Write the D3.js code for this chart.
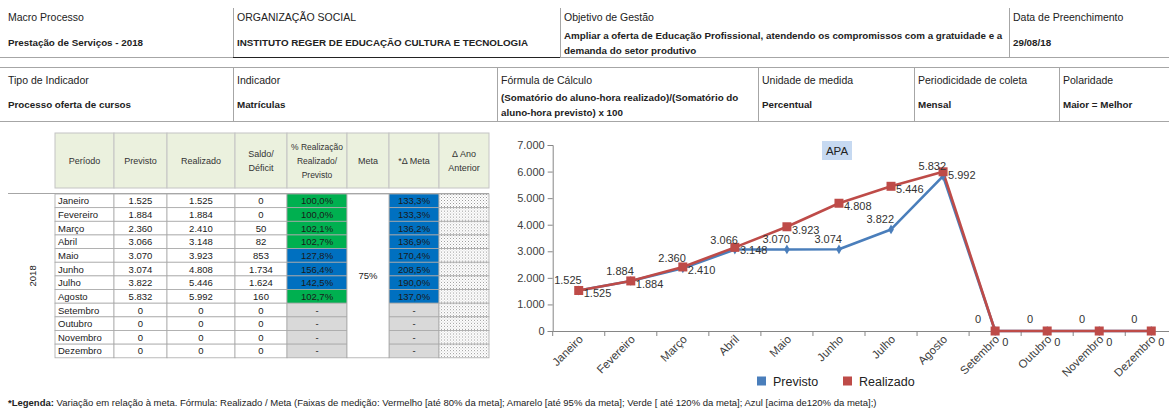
<!DOCTYPE html>
<html>
<head>
<meta charset="utf-8">
<script src="https://cdn.jsdelivr.net/npm/d3@7"></script>
<style>
  body { margin: 0; background: #fff; }
  svg { display: block; font-family: 'Liberation Sans', Arial, sans-serif; }
</style>
</head>
<body>
<svg id="painel" width="1169" height="411"></svg>
<script>
// ---- dados ----
const meses = ["Janeiro", "Fevereiro", "Março", "Abril", "Maio", "Junho", "Julho", "Agosto", "Setembro", "Outubro", "Novembro", "Dezembro"];
const previsto = [1525, 1884, 2360, 3066, 3070, 3074, 3822, 5832, 0, 0, 0, 0];
const realizado = [1525, 1884, 2410, 3148, 3923, 4808, 5446, 5992, 0, 0, 0, 0];
const saldo = [0, 0, 50, 82, 853, 1734, 1624, 160, 0, 0, 0, 0];
const pctRealizacao = [100.0, 100.0, 102.1, 102.7, 127.8, 156.4, 142.5, 102.7, null, null, null, null];
const deltaMeta = [133.3, 133.3, 136.2, 136.9, 170.4, 208.5, 190.0, 137.0, null, null, null, null];
const meta = "75%";
const ano = "2018";
const yTicks = [0, 1000, 2000, 3000, 4000, 5000, 6000, 7000];
const series = ["Previsto", "Realizado"];
const tituloGrafico = "APA";

const cab1Titulos = ["Macro Processo", "ORGANIZAÇÃO SOCIAL", "Objetivo de Gestão", "Data de Preenchimento"];
const cab1Valores = [
    ["Prestação de Serviços - 2018"],
    ["INSTITUTO REGER DE EDUCAÇÃO CULTURA E TECNOLOGIA"],
    ["Ampliar a oferta de Educação Profissional, atendendo os compromissos com a gratuidade e a", "demanda do setor produtivo"],
    ["29/08/18"]
];
const cab2Titulos = ["Tipo de Indicador", "Indicador", "Fórmula  de Cálculo", "Unidade de medida", "Periodicidade de coleta", "Polaridade"];
const cab2Valores = [
    ["Processo oferta de cursos"],
    ["Matrículas"],
    ["(Somatório do aluno-hora realizado)/(Somatório do", "aluno-hora previsto) x 100"],
    ["Percentual"],
    ["Mensal"],
    ["Maior = Melhor"]
];
const tabelaTitulos = [["Período"], ["Previsto"], ["Realizado"], ["Saldo/", "Déficit"], ["% Realização", "Realizado/", "Previsto"], ["Meta"], ["*Δ Meta"], ["Δ Ano", "Anterior"]];
const legendaNegrito = "*Legenda:";
const legendaTexto = " Variação em relação à meta. Fórmula: Realizado / Meta (Faixas de medição: Vermelho [até 80% da meta]; Amarelo [até 95% da meta]; Verde [ até 120% da meta]; Azul [acima de120% da meta];)";

// ---- formatação pt-BR ----
const br = d3.formatLocale({decimal: ",", thousands: ".", grouping: [3], currency: ["R$", ""]});
const fmtInt = br.format(",d");
const fmtPct = v => br.format(",.1f")(v) + "%";

// faixas de medição (legenda)
const corFaixa = d3.scaleThreshold().domain([80, 95, 120]).range(["#ff0000", "#ffff00", "#00b050", "#0070c0"]);

const svg = d3.select("#painel");
const textColor = "#222";

// ---- cabeçalhos ----
function drawHeaderBlock(g, titulos, valores, xs, seps, top, bottom, tituloY, valorY) {
    g.selectAll(".sep").data(seps).join("line")
        .attr("x1", d => d).attr("x2", d => d)
        .attr("y1", top).attr("y2", bottom)
        .attr("stroke", "#a6a6a6");
    g.append("line").attr("x1", 0).attr("x2", 1169).attr("y1", bottom + 0.5).attr("y2", bottom + 0.5).attr("stroke", "#a6a6a6");

    g.selectAll(".tit").data(titulos).join("text")
        .attr("x", (d, i) => xs[i]).attr("y", tituloY)
        .attr("font-size", 10.5).attr("fill", textColor)
        .text(d => d);

    valores.forEach((linhas, i) => {
        const y0 = linhas.length > 1 ? valorY - 7 : valorY;
        g.selectAll(null).data(linhas).join("text")
            .attr("x", xs[i]).attr("y", (d, j) => y0 + j * 15)
            .attr("font-size", 9.8).attr("font-weight", "bold").attr("fill", textColor)
            .text(d => d);
    });
}

const cab1 = svg.append("g");
drawHeaderBlock(cab1, cab1Titulos, cab1Valores, [8, 237, 564, 1013], [233.5, 560.5, 1009.5], 8, 57, 21, 46);
cab1.append("line").attr("x1", 233).attr("x2", 560).attr("y1", 57.5).attr("y2", 57.5).attr("stroke", "#222");

const cab2 = svg.append("g");
cab2.append("line").attr("x1", 0).attr("x2", 1169).attr("y1", 67.5).attr("y2", 67.5).attr("stroke", "#a6a6a6");
drawHeaderBlock(cab2, cab2Titulos, cab2Valores, [8, 237, 501, 762, 918, 1063], [233.5, 497.5, 758.5, 914.5, 1059.5], 67, 121, 84, 108);

// ---- tabela mensal ----
const colX = [55, 114, 167, 235, 287, 347, 389, 439, 489];
const headTop = 133, headBottom = 188, rowTop = 194, rowH = 13.65;
const tab = svg.append("g").attr("fill", textColor);

const defs = svg.append("defs");
const pat = defs.append("pattern").attr("id", "pontos").attr("patternUnits", "userSpaceOnUse")
    .attr("width", 3).attr("height", 3);
pat.append("rect").attr("width", 3).attr("height", 3).attr("fill", "#fff");
pat.append("rect").attr("x", 0).attr("y", 0).attr("width", 1).attr("height", 1).attr("fill", "#9a9a9a");
pat.append("rect").attr("x", 1.5).attr("y", 1.5).attr("width", 1).attr("height", 1).attr("fill", "#c0c0c0");

tabelaTitulos.forEach((linhas, c) => {
    tab.append("rect")
        .attr("x", colX[c]).attr("y", headTop)
        .attr("width", colX[c + 1] - colX[c]).attr("height", headBottom - headTop)
        .attr("fill", "#ebf1de").attr("stroke", "#c4c4c4");
    const cy = (headTop + headBottom) / 2;
    tab.selectAll(null).data(linhas).join("text")
        .attr("x", (colX[c] + colX[c + 1]) / 2)
        .attr("y", (d, j) => cy + 3.5 + (j - (linhas.length - 1) / 2) * 14)
        .attr("text-anchor", "middle").attr("font-size", linhas.length > 2 ? 8.5 : 9).attr("fill", "#333")
        .text(d => d);
});

tab.append("line").attr("x1", 8).attr("x2", colX[8]).attr("y1", rowTop - 0.5).attr("y2", rowTop - 0.5).attr("stroke", "#a6a6a6");

const linhas = meses.map((m, i) => ({
    mes: m, prev: previsto[i], real: realizado[i], saldo: saldo[i], pct: pctRealizacao[i], dm: deltaMeta[i], i
}));

const rowG = tab.selectAll(".linha").data(linhas).join("g")
    .attr("transform", d => `translate(0,${rowTop + d.i * rowH})`);

const celulas = [
    {c: 0, fill: () => "#fff", txt: d => d.mes, anchor: "start"},
    {c: 1, fill: () => "#fff", txt: d => fmtInt(d.prev)},
    {c: 2, fill: () => "#fff", txt: d => fmtInt(d.real)},
    {c: 3, fill: () => "#fff", txt: d => fmtInt(d.saldo)},
    {c: 4, fill: d => d.pct == null ? "#d9d9d9" : corFaixa(d.pct), txt: d => d.pct == null ? "-" : fmtPct(d.pct)},
    {c: 6, fill: d => d.dm == null ? "#d9d9d9" : corFaixa(d.dm), txt: d => d.dm == null ? "-" : fmtPct(d.dm)},
    {c: 7, fill: () => "url(#pontos)", txt: () => ""}
];

celulas.forEach(cel => {
    const x0 = colX[cel.c], x1 = colX[cel.c + 1];
    rowG.append("rect")
        .attr("x", x0).attr("y", 0).attr("width", x1 - x0).attr("height", rowH)
        .attr("fill", cel.fill).attr("stroke", "#a9a9a9").attr("stroke-width", 0.8);
    rowG.append("text")
        .attr("x", cel.anchor === "start" ? x0 + 3 : (x0 + x1) / 2)
        .attr("y", rowH / 2 + 3.5)
        .attr("text-anchor", cel.anchor || "middle")
        .attr("fill", "#1a1a1a")
        .attr("font-size", 9.5)
        .text(cel.txt);
});

// meta: célula mesclada
const tabBottom = rowTop + meses.length * rowH;
tab.append("rect").attr("x", colX[5]).attr("y", rowTop).attr("width", colX[6] - colX[5]).attr("height", tabBottom - rowTop)
    .attr("fill", "#fff").attr("stroke", "#a9a9a9").attr("stroke-width", 0.8);
tab.append("text").attr("x", (colX[5] + colX[6]) / 2).attr("y", (rowTop + tabBottom) / 2 + 3.5)
    .attr("text-anchor", "middle").attr("font-size", 9.5).text(meta);

tab.append("text")
    .attr("transform", `translate(${36},${(rowTop + tabBottom) / 2}) rotate(-90)`)
    .attr("text-anchor", "middle").attr("font-size", 9.5).text(ano);

// ---- gráfico ----
const x = d3.scaleBand().domain(meses).range([552.7, 1177.3]);
const y = d3.scaleLinear().domain([0, 7000]).range([331, 145]);
const cx = m => x(m) + x.bandwidth() / 2;
const axisColor = "#868686";
const chart = svg.append("g");

const yAxis = d3.axisLeft(y).tickValues(yTicks).tickFormat(fmtInt).tickSize(5).tickPadding(3);
chart.append("g").attr("transform", `translate(${x.range()[0]},0)`).call(yAxis)
    .call(g => g.select(".domain").attr("stroke", axisColor))
    .call(g => g.selectAll(".tick line").attr("stroke", axisColor))
    .call(g => g.selectAll(".tick text").attr("fill", "#404040").attr("font-size", 11).attr("font-family", "'Liberation Sans', Arial, sans-serif"));

const xAxis = d3.axisBottom(x).tickSize(0).tickPadding(0);
chart.append("g").attr("transform", `translate(0,${y(0)})`).call(xAxis)
    .call(g => g.select(".domain").attr("stroke", axisColor))
    .call(g => g.selectAll(".tick text")
        .attr("font-size", 11.5).attr("fill", "#404040").attr("font-family", "'Liberation Sans', Arial, sans-serif")
        .attr("text-anchor", "end").attr("dy", 0)
        .attr("transform", "translate(5,9) rotate(-45)"));

// marcas entre categorias
chart.selectAll(".xtick").data(meses.concat(["fim"])).join("line")
    .attr("x1", (d, i) => x.range()[0] + i * x.bandwidth())
    .attr("x2", (d, i) => x.range()[0] + i * x.bandwidth())
    .attr("y1", y(0)).attr("y2", y(0) + 5)
    .attr("stroke", axisColor);

const dados = [
    {nome: series[0], valores: previsto, cor: "#4a7ebb"},
    {nome: series[1], valores: realizado, cor: "#be4b48"}
];
const linha = d3.line().x((d, i) => cx(meses[i])).y(d => y(d));

dados.forEach(s => {
    chart.append("path").datum(s.valores)
        .attr("d", linha).attr("fill", "none")
        .attr("stroke", s.cor).attr("stroke-width", 2.6).attr("stroke-linejoin", "round");
});

// marcadores
chart.selectAll(".losango").data(previsto).join("path")
    .attr("d", d3.symbol(d3.symbolDiamond, 28)())
    .attr("transform", (d, i) => `translate(${cx(meses[i])},${y(d)})`)
    .attr("fill", dados[0].cor);
chart.selectAll(".quadrado").data(realizado).join("rect")
    .attr("x", (d, i) => cx(meses[i]) - 4.5).attr("y", d => y(d) - 4.5)
    .attr("width", 9).attr("height", 9)
    .attr("fill", dados[1].cor);

// rótulos de dados
chart.selectAll(".rotPrev").data(previsto).join("text")
    .attr("x", (d, i) => cx(meses[i]) + (d === 0 ? -14 : 3)).attr("y", d => y(d) - (d === 0 ? 8 : 6))
    .attr("text-anchor", "end").attr("font-size", 11).attr("fill", "#333")
    .text(fmtInt);
chart.selectAll(".rotReal").data(realizado).join("text")
    .attr("x", (d, i) => cx(meses[i]) + (d === 0 ? 7 : 5)).attr("y", d => y(d) + (d === 0 ? 15 : 7))
    .attr("font-size", 11).attr("fill", "#333")
    .text(fmtInt);

// título
const tg = chart.append("g").attr("transform", "translate(837,151)");
tg.append("rect").attr("x", -15).attr("y", -10).attr("width", 30).attr("height", 19).attr("fill", "#c6d9f1");
tg.append("text").attr("text-anchor", "middle").attr("y", 4).attr("font-size", 11.5).attr("fill", "#222").text(tituloGrafico);

// legenda
const leg = chart.selectAll(".leg").data(dados).join("g")
    .attr("transform", (d, i) => `translate(${757 + i * 86},381)`);
leg.append("rect").attr("x", 0).attr("y", -4.5).attr("width", 9).attr("height", 9).attr("fill", d => d.cor);
leg.append("text").attr("x", 16).attr("y", 5).attr("font-size", 12.5).attr("fill", "#222").text(d => d.nome);

// ---- legenda da tabela ----
const nota = svg.append("text").attr("x", 8).attr("y", 406).attr("font-size", 9.5).attr("fill", "#222");
nota.append("tspan").attr("font-weight", "bold").text(legendaNegrito);
nota.append("tspan").text(legendaTexto);
</script>
</body>
</html>
